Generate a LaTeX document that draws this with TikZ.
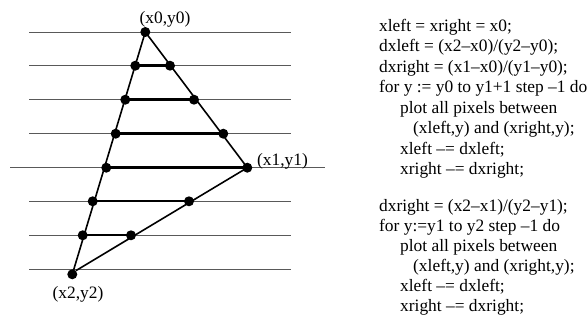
\documentclass[tikz,border=0pt]{standalone}
\usepackage{fontspec}
\setmainfont{Liberation Serif}
\begin{document}
\begin{tikzpicture}[x=1pt,y=-1pt,
  dot/.style={circle,fill=black,inner sep=0pt,minimum size=10pt},
  grid/.style={draw=black!65,line width=0.8pt},
  edge/.style={draw=black,line width=1.6pt},
  span/.style={draw=black,line width=2.4pt},
  lbl/.style={font=\fontsize{17.4}{20.5}\selectfont,inner sep=0pt},
  code/.style={font=\fontsize{17.4}{20.5}\selectfont,inner sep=0pt,anchor=base west}]
\useasboundingbox (0,0) rectangle (587,323);
% scan lines
\foreach \yy in {32,65.7,99.7,133.7,201.3,235.3,269.3}
  \draw[grid] (29,\yy) -- (291,\yy);
\draw[grid] (10,167.7) -- (325,167.7);
% vertices and intersections
\node[dot] (p0) at (145.3,32) {};
\node[dot] (p1) at (247.3,167.7) {};
\node[dot] (p2) at (72.3,274.3) {};
\node[dot] (l1) at (135.3,65.7) {};
\node[dot] (r1) at (170,65.7) {};
\node[dot] (l2) at (125.3,99.7) {};
\node[dot] (r2) at (194,99.7) {};
\node[dot] (l3) at (115.7,133.7) {};
\node[dot] (r3) at (223.3,133.7) {};
\node[dot] (l4) at (106.3,167.7) {};
\node[dot] (l5) at (92.7,201.3) {};
\node[dot] (r5) at (189,201.3) {};
\node[dot] (l6) at (82.7,235.3) {};
\node[dot] (r6) at (131,235.3) {};
% spans
\draw[span] (l1.center) -- (r1.center);
\draw[span] (l2.center) -- (r2.center);
\draw[span] (l3.center) -- (r3.center);
\draw[span] (l4.center) -- (p1.center);
\draw[span] (l5.center) -- (r5.center);
\draw[span] (l6.center) -- (r6.center);
% triangle edges
\draw[edge] (p0.center) -- (p2.center);
\draw[edge] (p0.center) -- (p1.center);
\draw[edge] (p1.center) -- (p2.north east);
% labels
\node[lbl] (t0) at (165,19) {(x0,y0)};
\node[lbl,anchor=west] (t1) at (257,161) {(x1,y1)};
\node[lbl] (t2) at (78,294) {(x2,y2)};
% code
\node[code] (c1) at (379,31.4) {xleft = xright = x0;};
\node[code] (c2) at (379,51.9) {dxleft = (x2–x0)/(y2–y0);};
\node[code] (c3) at (379,72.4) {dxright = (x1–x0)/(y1–y0);};
\node[code] (c4) at (379,92.9) {for y := y0 to y1+1 step –1 do};
\node[code] (c5) at (400,113.4) {plot all pixels between};
\node[code] (c6) at (413,133.9) {(xleft,y) and (xright,y);};
\node[code] (c7) at (400,154.4) {xleft –= dxleft;};
\node[code] (c8) at (400,174.9) {xright –= dxright;};
\node[code] (c9) at (379,211.4) {dxright = (x2–x1)/(y2–y1);};
\node[code] (c10) at (379,231.4) {for y:=y1 to y2 step –1 do};
\node[code] (c11) at (400,251.4) {plot all pixels between};
\node[code] (c12) at (413,271.4) {(xleft,y) and (xright,y);};
\node[code] (c13) at (400,291.4) {xleft –= dxleft;};
\node[code] (c14) at (400,311.4) {xright –= dxright;};
\end{tikzpicture}
\end{document}
